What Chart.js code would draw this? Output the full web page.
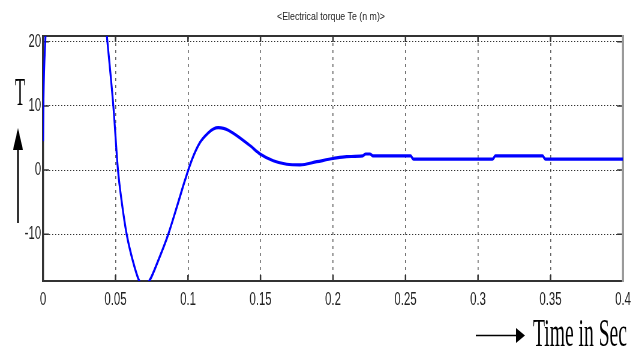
<!DOCTYPE html>
<html>
<head>
<meta charset="utf-8">
<script src="https://cdn.jsdelivr.net/npm/chart.js@4"></script>
<style>
  html, body { margin: 0; padding: 0; background: #fff; overflow: hidden; }
  #wrap { position: relative; width: 642px; height: 353px; }
  /* the original plot is squeezed sideways, so the chart is drawn wide and scaled down */
  #squeeze { position: absolute; left: 0; top: 0; width: 1070px; height: 353px; transform: scaleX(0.6); transform-origin: 0 0; }
  #squeeze canvas { width: 1070px; height: 353px; }
  .txt { position: absolute; white-space: nowrap; color: #000; }
  #title { left: 331px; top: 11px; font: 11px 'Liberation Sans', Arial, sans-serif; line-height: 11px; color: #222; transform: translateX(-50%) scaleX(0.8); }
  #ylab { left: 14.5px; top: 71.5px; font: 40px 'Liberation Serif', serif; line-height: 40px; transform: scaleX(0.41); transform-origin: 0 0; }
  #xlab { left: 533px; top: 313px; font: 40px 'Liberation Serif', serif; line-height: 40px; transform: scaleX(0.49); transform-origin: 0 0; }
  svg { position: absolute; left: 0; top: 0; }
</style>
</head>
<body>
<div id="wrap">
  <div id="squeeze"><canvas id="chart" width="1070" height="353"></canvas></div>
  <div id="title" class="txt">&lt;Electrical torque Te (n m)&gt;</div>
  <div id="ylab" class="txt">T</div>
  <div id="xlab" class="txt">Time in Sec</div>
  <svg width="642" height="353">
    <line x1="18" y1="223" x2="18" y2="146" stroke="#000" stroke-width="1.6"/>
    <polygon points="13,150 23,150 18,128" fill="#000"/>
    <line x1="476" y1="335.5" x2="519" y2="335.5" stroke="#000" stroke-width="1.6"/>
    <polygon points="516,328 516,343 525,335.5" fill="#000"/>
  </svg>
</div>
<script>
// Electrical torque Te (N m) vs time (s)
const timeSec = [0, 0.0003, 0.0017, 0.004, 0.012, 0.022, 0.031, 0.038,
  0.0441, 0.0485, 0.0517, 0.0545, 0.0577, 0.062, 0.0664, 0.0698, 0.0733, 0.08, 0.0864,
  0.0925, 0.0979, 0.1026, 0.1083, 0.114, 0.1175, 0.1209, 0.1245, 0.1278, 0.1359, 0.1428,
  0.1497, 0.1588, 0.1681, 0.1772, 0.1888, 0.2002, 0.2094,
  0.2205, 0.2225, 0.2255, 0.2275, 0.2535, 0.2555, 0.31, 0.312, 0.3445, 0.3465, 0.4];
const torqueNm = [4.5, 11, 20.8, 33, 52, 62, 55, 36,
  20.8, 10, 0, -5.3, -10, -14.2, -17.3, -18.1, -17.3, -13.8, -10,
  -5.6, -1.6, 1.55, 4.3, 5.8, 6.4, 6.6, 6.5, 6.2, 5.0, 3.8,
  2.5, 1.45, 0.9, 0.8, 1.3, 1.8, 2.1,
  2.2, 2.5, 2.5, 2.2, 2.2, 1.7, 1.7, 2.2, 2.2, 1.7, 1.7];

const xTicks = [0, 0.05, 0.1, 0.15, 0.2, 0.25, 0.3, 0.35, 0.4];
const xTickLabels = ['0', '0.05', '0.1', '0.15', '0.2', '0.25', '0.3', '0.35', '0.4'];
const yTicks = [-10, 0, 10, 20];
const yTickLabels = ['-10', '0', '10', '20'];

const SX = 0.6; // horizontal squeeze of the canvas
const tickFont = { family: "'Liberation Sans', Arial, sans-serif", size: 19 };

// MATLAB style box with inward tick marks
const boxPlugin = {
  id: 'box',
  beforeDatasetsDraw(chart) {
    const { ctx, chartArea: a, scales: { x, y } } = chart;
    ctx.save();
    ctx.strokeStyle = '#333';
    ctx.lineWidth = 1.5 / SX;
    xTicks.forEach(v => {
      const px = x.getPixelForValue(v);
      ctx.beginPath();
      ctx.moveTo(px, a.bottom); ctx.lineTo(px, a.bottom - 6);
      ctx.moveTo(px, a.top); ctx.lineTo(px, a.top + 6);
      ctx.stroke();
    });
    ctx.lineWidth = 1.5;
    yTicks.forEach(v => {
      const py = y.getPixelForValue(v);
      ctx.beginPath();
      ctx.moveTo(a.left, py); ctx.lineTo(a.left + 6 / SX, py);
      ctx.moveTo(a.right, py); ctx.lineTo(a.right - 6 / SX, py);
      ctx.stroke();
    });
    // top and bottom
    ctx.lineWidth = 2;
    ctx.beginPath();
    ctx.moveTo(a.left, a.top); ctx.lineTo(a.right, a.top);
    ctx.moveTo(a.left, a.bottom); ctx.lineTo(a.right, a.bottom);
    ctx.stroke();
    // left
    ctx.lineWidth = 2 / SX;
    ctx.beginPath();
    ctx.moveTo(a.left, a.top - 1); ctx.lineTo(a.left, a.bottom + 1);
    ctx.stroke();
    // right, lighter
    ctx.strokeStyle = '#9a9a9a';
    ctx.beginPath();
    ctx.moveTo(a.right, a.top - 1); ctx.lineTo(a.right, a.bottom + 1);
    ctx.stroke();
    ctx.restore();
  }
};

new Chart(document.getElementById('chart'), {
  type: 'line',
  data: {
    datasets: [{
      data: timeSec.map((t, i) => ({ x: t, y: torqueNm[i] })),
      borderColor: '#0000ff',
      borderWidth: 3.2,
      pointRadius: 0,
      fill: false,
      cubicInterpolationMode: 'monotone'
    }]
  },
  options: {
    responsive: false,
    animation: false,
    devicePixelRatio: 1,
    layout: { padding: { left: 0, top: 36, right: 1070 - 623 / SX, bottom: 0 } },
    plugins: { legend: { display: false }, tooltip: { enabled: false } },
    scales: {
      x: {
        type: 'linear',
        min: 0,
        max: 0.4,
        afterBuildTicks: s => { s.ticks = xTicks.map(v => ({ value: v })); },
        afterFit: s => { s.height = 72; },
        ticks: {
          callback: (v, i) => xTickLabels[i],
          font: tickFont,
          color: '#222',
          padding: 7,
          maxRotation: 0,
          autoSkip: false
        },
        grid: { color: '#666', lineWidth: 1 / SX, drawTicks: false },
        border: { display: false, dash: [3, 4] }
      },
      y: {
        min: -17.3,
        max: 20.9,
        afterBuildTicks: s => { s.ticks = yTicks.map(v => ({ value: v })); },
        afterFit: s => { s.width = 43 / SX; },
        ticks: {
          callback: (v, i) => yTickLabels[i],
          font: tickFont,
          color: '#222',
          padding: 3
        },
        grid: { color: '#333', lineWidth: 1, drawTicks: false },
        border: { display: false, dash: [1 / SX, 2 / SX] }
      }
    }
  },
  plugins: [boxPlugin]
});
</script>
</body>
</html>
